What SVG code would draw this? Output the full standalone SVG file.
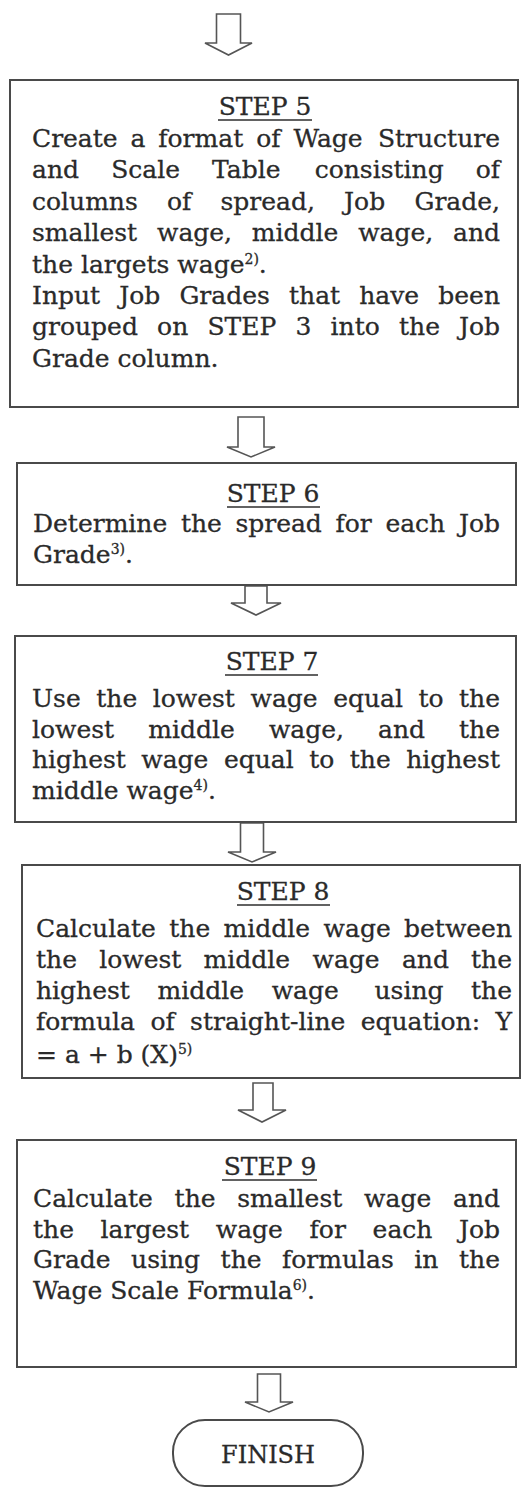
<svg xmlns="http://www.w3.org/2000/svg" width="526" height="1493" viewBox="0 0 526 1493">
<style>
.box{fill:#fff;stroke:#4a4a4a;stroke-width:2}
.arr{fill:#fff;stroke:#555;stroke-width:1.6;stroke-linejoin:miter}
text{font-family:"DejaVu Serif","Liberation Serif",serif;font-size:25px;fill:#2a2a2a;stroke:#2a2a2a;stroke-width:0.3}
.h{text-anchor:middle}
.e{text-anchor:end}
.ul{stroke:#2e2e2e;stroke-width:1.6}
.sup{font-size:14px}
.fin{font-size:24px;text-anchor:middle}
</style>
<rect width="526" height="1493" fill="#fff"/>
<g id="connectors">
<path class="arr" d="M216.5,14 V43 H205 L228.5,55 L252,43 H240.5 V14 Z"/>
<path class="arr" d="M238,417 V447 H227 L251,457 L275,447 H264 V417 Z"/>
<path class="arr" d="M245,586 V603 H231 L256,615 L281,603 H267 V586 Z"/>
<path class="arr" d="M240.5,823 V852 H228 L252,862 L276,852 H263.5 V823 Z"/>
<path class="arr" d="M253,1083 V1110 H238 L262,1122 L286,1110 H273 V1083 Z"/>
<path class="arr" d="M257.5,1374 V1402 H245 L269,1412 L293,1402 H280.5 V1374 Z"/>
</g>
<g id="step5">
<rect class="box" x="10" y="80" width="508" height="327"/>
<text class="h" x="265" y="115">STEP 5</text>
<line class="ul" x1="218" y1="120" x2="312" y2="120"/>
<text y="147"><tspan x="32">Create</tspan><tspan x="130.5">a</tspan><tspan x="158.3">format</tspan><tspan x="256.2">of</tspan><tspan x="293.4">Wage</tspan></text>
<text class="e" x="500" y="147">Structure</text>
<text y="178.4"><tspan x="32">and</tspan><tspan x="111.2">Scale</tspan><tspan x="212.1">Table</tspan><tspan x="314.7">consisting</tspan></text>
<text class="e" x="500" y="178.4">of</text>
<text y="209.8"><tspan x="32">columns</tspan><tspan x="167">of</tspan><tspan x="220.5">spread,</tspan><tspan x="344.1">Job</tspan></text>
<text class="e" x="500" y="209.8">Grade,</text>
<text y="241.2"><tspan x="32">smallest</tspan><tspan x="157">wage,</tspan><tspan x="251.8">middle</tspan><tspan x="358.2">wage,</tspan></text>
<text class="e" x="500" y="241.2">and</text>
<text x="32" y="272.6">the largets wage<tspan class="sup" dy="-9">2)</tspan><tspan dy="9">.</tspan></text>
<text y="304"><tspan x="32">Input</tspan><tspan x="119.2">Job</tspan><tspan x="179.4">Grades</tspan><tspan x="289">that</tspan><tspan x="359.2">have</tspan></text>
<text class="e" x="500" y="304">been</text>
<text y="335.4"><tspan x="32">grouped</tspan><tspan x="157.1">on</tspan><tspan x="207.4">STEP</tspan><tspan x="295.5">3</tspan><tspan x="330.6">into</tspan><tspan x="399">the</tspan></text>
<text class="e" x="500" y="335.4">Job</text>
<text x="32" y="366.8">Grade column.</text>
</g>
<g id="step6">
<rect class="box" x="17" y="463" width="499" height="122"/>
<text class="h" x="273" y="502">STEP 6</text>
<line class="ul" x1="227" y1="507" x2="320" y2="507"/>
<text y="532"><tspan x="33">Determine</tspan><tspan x="180.9">the</tspan><tspan x="235.4">spread</tspan><tspan x="335.5">for</tspan><tspan x="385.4">each</tspan></text>
<text class="e" x="500" y="532">Job</text>
<text x="33" y="563">Grade<tspan class="sup" dy="-9">3)</tspan><tspan dy="9">.</tspan></text>
</g>
<g id="step7">
<rect class="box" x="15" y="636" width="501" height="186"/>
<text class="h" x="272" y="670">STEP 7</text>
<line class="ul" x1="225" y1="675" x2="318" y2="675"/>
<text y="707"><tspan x="32">Use</tspan><tspan x="96.3">the</tspan><tspan x="152.8">lowest</tspan><tspan x="250.5">wage</tspan><tspan x="333.2">equal</tspan><tspan x="418.5">to</tspan></text>
<text class="e" x="500" y="707">the</text>
<text y="737.5"><tspan x="32">lowest</tspan><tspan x="148.2">middle</tspan><tspan x="268.9">wage,</tspan><tspan x="378.1">and</tspan></text>
<text class="e" x="500" y="737.5">the</text>
<text y="768"><tspan x="32">highest</tspan><tspan x="141.3">wage</tspan><tspan x="223.9">equal</tspan><tspan x="309.2">to</tspan><tspan x="349.8">the</tspan></text>
<text class="e" x="500" y="768">highest</text>
<text x="32" y="798.5">middle wage<tspan class="sup" dy="-9">4)</tspan><tspan dy="9">.</tspan></text>
</g>
<g id="step8">
<rect class="box" x="22" y="865" width="498" height="213"/>
<text class="h" x="283" y="900">STEP 8</text>
<line class="ul" x1="237" y1="905" x2="330" y2="905"/>
<text y="937"><tspan x="36">Calculate</tspan><tspan x="169.3">the</tspan><tspan x="223.6">middle</tspan><tspan x="323.6">wage</tspan></text>
<text class="e" x="512" y="937">between</text>
<text y="967.5"><tspan x="36">the</tspan><tspan x="99.2">lowest</tspan><tspan x="203.6">middle</tspan><tspan x="312.5">wage</tspan><tspan x="401.9">and</tspan></text>
<text class="e" x="512" y="967.5">the</text>
<text y="998.5"><tspan x="36">highest</tspan><tspan x="157.5">middle</tspan><tspan x="271.7">wage</tspan><tspan x="374.5">using</tspan></text>
<text class="e" x="512" y="998.5">the</text>
<text y="1030"><tspan x="36">formula</tspan><tspan x="150.4">of</tspan><tspan x="190.1">straight-line</tspan><tspan x="360.7">equation:</tspan></text>
<text class="e" x="512" y="1030">Y</text>
<text x="36" y="1063">= a + b (X)<tspan class="sup" dy="-9">5)</tspan></text>
</g>
<g id="step9">
<rect class="box" x="17" y="1140" width="499" height="227"/>
<text class="h" x="270" y="1175">STEP 9</text>
<line class="ul" x1="222" y1="1180" x2="317" y2="1180"/>
<text y="1207"><tspan x="33">Calculate</tspan><tspan x="174.6">the</tspan><tspan x="237.2">smallest</tspan><tspan x="364.1">wage</tspan></text>
<text class="e" x="500" y="1207">and</text>
<text y="1237.5"><tspan x="33">the</tspan><tspan x="100.6">largest</tspan><tspan x="215.8">wage</tspan><tspan x="309.6">for</tspan><tspan x="372.6">each</tspan></text>
<text class="e" x="500" y="1237.5">Job</text>
<text y="1268"><tspan x="33">Grade</tspan><tspan x="131.1">using</tspan><tspan x="220.6">the</tspan><tspan x="282">formulas</tspan><tspan x="414.3">in</tspan></text>
<text class="e" x="500" y="1268">the</text>
<text x="33" y="1298.5">Wage Scale Formula<tspan class="sup" dy="-9">6)</tspan><tspan dy="9">.</tspan></text>
</g>
<g id="finish">
<rect class="box" x="173" y="1420" width="190" height="66" rx="32" ry="32" stroke-width="1.6"/>
<text class="fin" x="268" y="1463">FINISH</text>
</g>
</svg>
